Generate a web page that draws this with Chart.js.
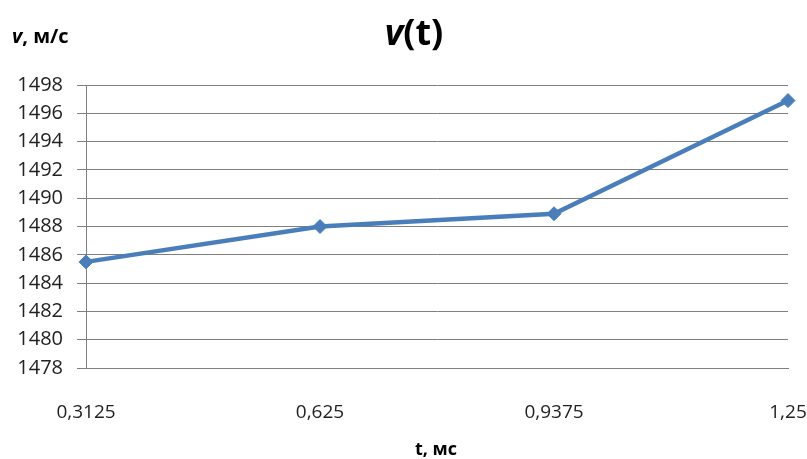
<!DOCTYPE html>
<html>
<head>
<meta charset="utf-8">
<script src="https://cdn.jsdelivr.net/npm/chart.js@4"></script>
<style>
  html, body { margin: 0; padding: 0; background: #fff; }
  #wrap { width: 807px; height: 459px; position: relative; }
</style>
</head>
<body>
<div id="wrap"><canvas id="chart"></canvas></div>
<script>
const timeLabels = ['0,3125', '0,625', '0,9375', '1,25'];
const speedValues = [1485.5, 1488.0, 1488.9, 1496.9];
const yMin = 1478;
const yMax = 1498;
const yStep = 2;

const font = '"Open Sans", "Noto Sans", sans-serif';

// title and axis captions with mixed styles (italic v)
const captions = {
    id: 'captions',
    afterDraw(chart) {
        const ctx = chart.ctx;
        ctx.save();
        ctx.fillStyle = '#000';
        ctx.textBaseline = 'alphabetic';

        // title v(t)
        ctx.font = 'italic bold 36px ' + font;
        const wv = ctx.measureText('v').width;
        ctx.font = 'bold 36px ' + font;
        const wt = ctx.measureText('(t)').width;
        let x = 414 - (wv + wt) / 2;
        ctx.font = 'italic bold 36px ' + font;
        ctx.fillText('v', x, 45);
        ctx.font = 'bold 36px ' + font;
        ctx.fillText('(t)', x + wv, 45);

        // y axis caption
        ctx.font = 'italic bold 20px ' + font;
        ctx.fillText('v', 12, 43);
        const w2 = ctx.measureText('v').width;
        ctx.font = 'bold 20px ' + font;
        ctx.fillText(', м/с', 12 + w2, 43);

        // x axis caption
        ctx.textAlign = 'center';
        ctx.font = 'bold 18px ' + font;
        ctx.fillText('t, мс', 436, 455);
        ctx.restore();
    }
};

new Chart(document.getElementById('chart'), {
    type: 'line',
    data: {
        labels: timeLabels,
        datasets: [{
            data: speedValues,
            borderColor: '#4a7ebb',
            backgroundColor: '#4a7ebb',
            borderWidth: 4.5,
            pointStyle: 'rectRot',
            pointRadius: 7,
            pointBorderWidth: 1,
            tension: 0
        }]
    },
    options: {
        responsive: true,
        maintainAspectRatio: false,
        animation: false,
        layout: { padding: { top: 85, right: 0, bottom: 0, left: 0 } },
        plugins: {
            legend: { display: false },
            tooltip: { enabled: false }
        },
        scales: {
            x: {
                offset: false,
                grid: { display: false },
                border: { display: true, color: '#7f7f7f' },
                ticks: {
                    color: '#222',
                    font: { family: font, size: 19 },
                    padding: 25,
                    maxRotation: 0
                },
                afterFit(scale) {
                    scale.height = 91;
                    scale.paddingLeft = 0;
                    scale.paddingRight = 19;
                }
            },
            y: {
                min: yMin,
                max: yMax,
                grid: { color: '#7f7f7f', tickLength: 9, lineWidth: 1 },
                border: { display: true, color: '#7f7f7f' },
                ticks: {
                    stepSize: yStep,
                    color: '#222',
                    font: { family: font, size: 20 },
                    padding: 14,
                    callback: value => String(value)
                },
                afterFit(scale) { scale.width = 86; }
            }
        }
    },
    plugins: [captions]
});
</script>
</body>
</html>
